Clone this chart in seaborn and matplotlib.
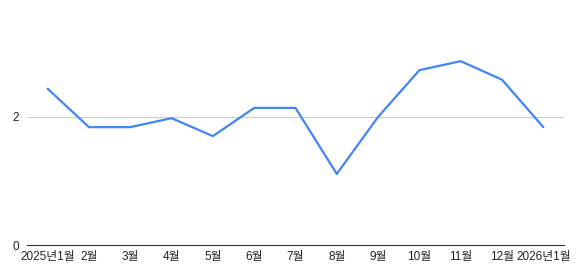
import matplotlib
matplotlib.use("Agg")
import matplotlib.pyplot as plt
import seaborn as sns
import pandas as pd

months = ["2025년1월", "2월", "3월", "4월", "5월", "6월", "7월", "8월", "9월", "10월", "11월", "12월", "2026년1월"]
values = [2.44, 1.84, 1.84, 1.98, 1.70, 2.14, 2.14, 1.11, 2.00, 2.73, 2.87, 2.58, 1.84]
y_ticks = [0, 2]

sns.set_theme(style="white")
plt.rcParams['font.family'] = ['Liberation Sans', 'Noto Sans CJK KR', 'DejaVu Sans']

df = pd.DataFrame({"pos": list(range(len(months))), "value": values})

fig = plt.figure(figsize=(5.8, 2.7), dpi=100)
ax = fig.add_axes([27/580, 25/270, (564-27)/580, (245-8)/270])

ax.axhline(2, color="#cccccc", linewidth=0.8, zorder=0)
sns.lineplot(data=df, x="pos", y="value", ax=ax, color="#4285F4", linewidth=1.6)

ax.set_xlim(-0.5, len(months) - 0.5)
ax.set_ylim(0, 3.7)
ax.set_xticks(range(len(months)))
ax.set_xticklabels(months)
ax.set_yticks(y_ticks)
ax.set_yticklabels([str(t) for t in y_ticks])
ax.tick_params(axis="both", length=0, labelsize=8.5, colors="#222222")
ax.tick_params(axis="x", pad=4)
ax.tick_params(axis="y", pad=6)
ax.set_xlabel("")
ax.set_ylabel("")
for s in ["top", "right", "left"]:
    ax.spines[s].set_visible(False)
ax.spines["bottom"].set_color("#333333")
ax.spines["bottom"].set_linewidth(0.8)

fig.savefig("out.png", dpi=100)
